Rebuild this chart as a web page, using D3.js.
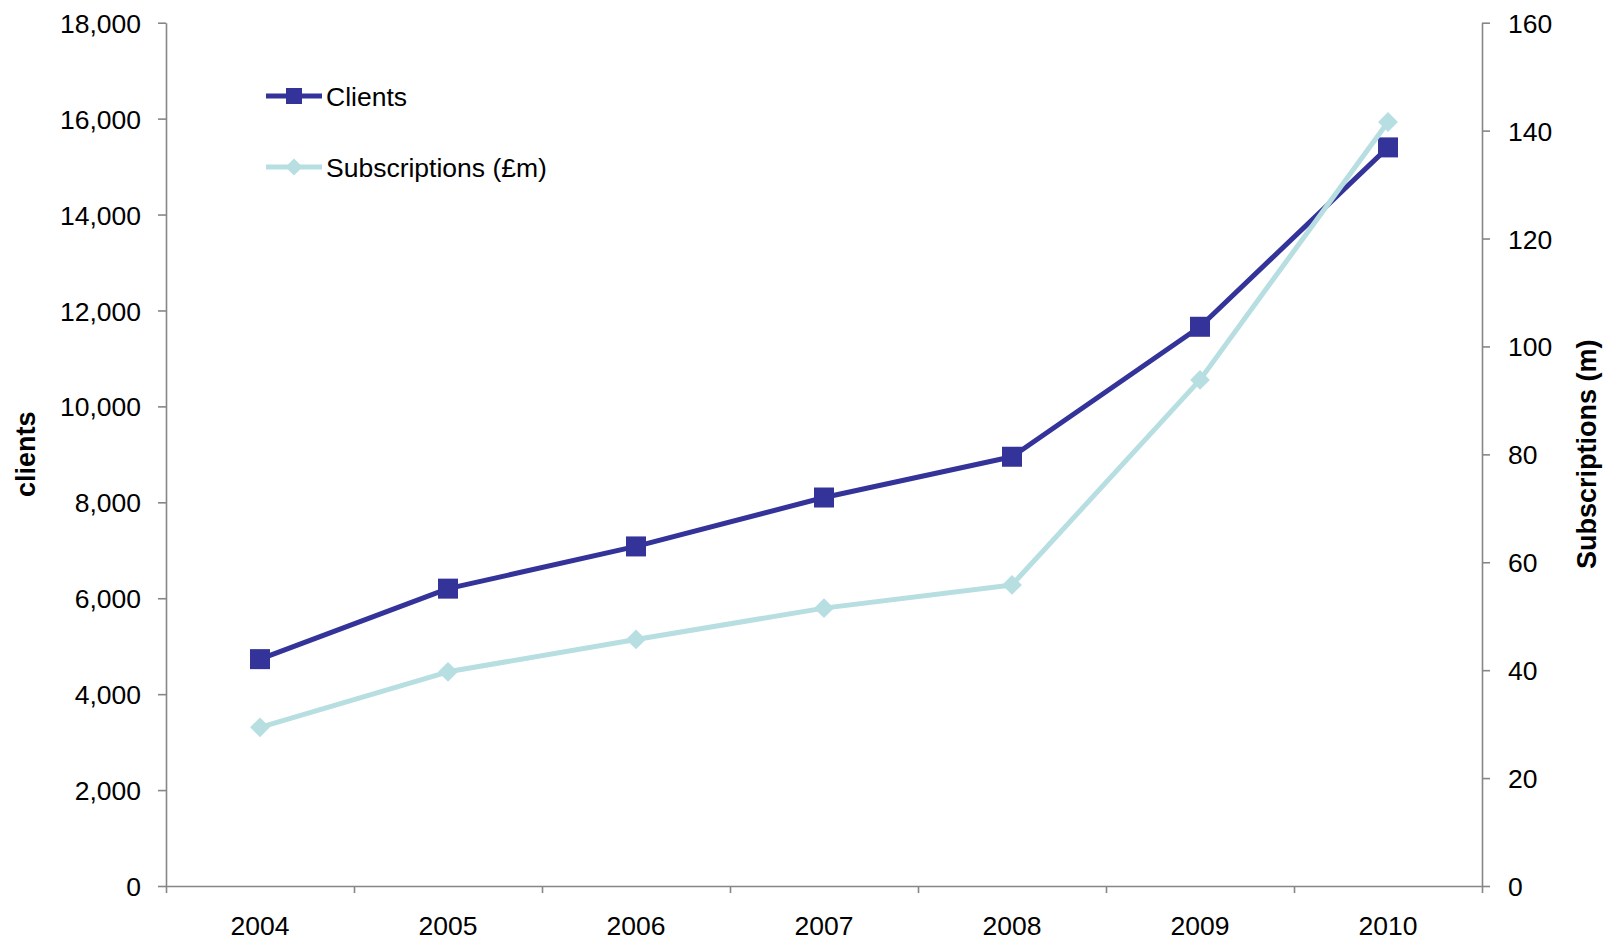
<!DOCTYPE html>
<html>
<head>
<meta charset="utf-8">
<script src="https://cdn.jsdelivr.net/npm/d3@7"></script>
<style>
  html, body { margin: 0; padding: 0; background: #fff; }
  svg { display: block; font-family: "Liberation Sans", Arial, sans-serif; }
</style>
</head>
<body>
<svg id="chart" width="1608" height="941"></svg>
<script>
const years = ["2004", "2005", "2006", "2007", "2008", "2009", "2010"];
const clients = [4730, 6200, 7080, 8100, 8950, 11660, 15400];
const subscriptions = [29.4, 39.7, 45.7, 51.5, 55.8, 93.8, 141.6];
const leftTicks = [0, 2000, 4000, 6000, 8000, 10000, 12000, 14000, 16000, 18000];
const rightTicks = [0, 20, 40, 60, 80, 100, 120, 140, 160];
const seriesNames = ["Clients", "Subscriptions (£m)"];

const W = 1608, H = 941;
const margin = { left: 166, right: 126, top: 22.7, bottom: 55 };
const x0 = margin.left, x1 = W - margin.right, y0 = H - margin.bottom, y1 = margin.top;

const axisColor = "#868686";
const clientColor = "#333399";
const subColor = "#B7DEE1";
const tickFont = "26.5px";

const svg = d3.select("#chart");

const xBand = d3.scaleBand().domain(years).range([x0, x1]).padding(0);
const xBound = d3.scaleLinear().domain([0, years.length]).range([x0, x1]);
const yL = d3.scaleLinear().domain([0, 18000]).range([y0, y1]);
const yR = d3.scaleLinear().domain([0, 160]).range([y0, y1]);
const cx = d => xBand(d) + xBand.bandwidth() / 2;

function styleAxis(g) {
  g.selectAll(".domain").attr("stroke", axisColor).attr("stroke-width", 1.6);
  g.selectAll(".tick line").attr("stroke", axisColor).attr("stroke-width", 1.6);
  g.selectAll("text").attr("fill", "#000").style("font-size", tickFont)
    .style("font-family", '"Liberation Sans", Arial, sans-serif');
}

// Left axis
const gL = svg.append("g").attr("transform", `translate(${x0},0)`)
  .call(d3.axisLeft(yL).tickValues(leftTicks).tickSize(8).tickSizeOuter(0).tickPadding(17)
    .tickFormat(d3.format(",")));
styleAxis(gL);
gL.selectAll("text").attr("dy", "0.36em");

// Right axis
const gR = svg.append("g").attr("transform", `translate(${x1},0)`)
  .call(d3.axisRight(yR).tickValues(rightTicks).tickSize(8).tickSizeOuter(0).tickPadding(18)
    .tickFormat(d3.format("d")));
styleAxis(gR);
gR.selectAll("text").attr("dy", "0.36em");

// Bottom axis: tick marks at category boundaries
const gB = svg.append("g").attr("transform", `translate(0,${y0})`)
  .call(d3.axisBottom(xBound).tickValues(d3.range(years.length + 1))
    .tickSize(7).tickSizeOuter(0).tickFormat(""));
styleAxis(gB);

// Bottom labels at category centres
const gBL = svg.append("g").attr("transform", `translate(0,${y0})`)
  .call(d3.axisBottom(xBand).tickSize(0).tickSizeOuter(0));
gBL.select(".domain").remove();
styleAxis(gBL);
gBL.selectAll("text").attr("y", 49).attr("dy", "0");

// Axis titles
svg.append("text")
  .attr("transform", `translate(35,${(y0 + y1) / 2}) rotate(-90)`)
  .attr("text-anchor", "middle").style("font-size", "27px").style("font-weight", "bold")
  .text("clients");
svg.append("text")
  .attr("transform", `translate(1596,${(y0 + y1) / 2}) rotate(-90)`)
  .attr("text-anchor", "middle").style("font-size", "27px").style("font-weight", "bold")
  .text("Subscriptions (m)");

// Clients line
const lineL = d3.line().x((d, i) => cx(years[i])).y(d => yL(d));
svg.append("path").datum(clients).attr("d", lineL)
  .attr("fill", "none").attr("stroke", clientColor).attr("stroke-width", 5)
  .attr("stroke-linejoin", "round");
const sq = 20;
svg.selectAll(".sq").data(clients).enter().append("rect")
  .attr("x", (d, i) => cx(years[i]) - sq / 2).attr("y", d => yL(d) - sq / 2)
  .attr("width", sq).attr("height", sq).attr("fill", clientColor);

// Subscriptions line
const lineR = d3.line().x((d, i) => cx(years[i])).y(d => yR(d));
svg.append("path").datum(subscriptions).attr("d", lineR)
  .attr("fill", "none").attr("stroke", subColor).attr("stroke-width", 5)
  .attr("stroke-linejoin", "round");
const diamond = d3.symbol().type(d3.symbolSquare).size(14 * 14);
svg.selectAll(".dm").data(subscriptions).enter().append("path")
  .attr("d", diamond)
  .attr("transform", (d, i) => `translate(${cx(years[i])},${yR(d)}) rotate(45)`)
  .attr("fill", subColor);

// Legend
const legendY = [96, 167];
const legendColors = [clientColor, subColor];
const lg = svg.append("g");
seriesNames.forEach((name, i) => {
  const y = legendY[i];
  lg.append("line").attr("x1", 266).attr("x2", 322).attr("y1", y).attr("y2", y)
    .attr("stroke", legendColors[i]).attr("stroke-width", 5);
  if (i === 0) {
    lg.append("rect").attr("x", 294 - 8).attr("y", y - 8).attr("width", 16).attr("height", 16)
      .attr("fill", clientColor);
  } else {
    lg.append("path").attr("d", d3.symbol().type(d3.symbolSquare).size(12 * 12))
      .attr("transform", `translate(294,${y}) rotate(45)`).attr("fill", subColor);
  }
  lg.append("text").attr("x", 326).attr("y", y).attr("dy", "0.36em")
    .style("font-size", tickFont).attr("fill", "#000").text(name);
});
</script>
</body>
</html>
